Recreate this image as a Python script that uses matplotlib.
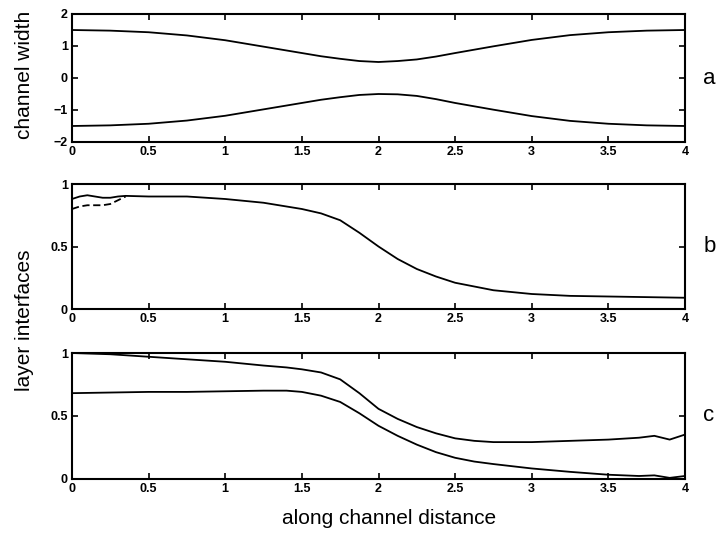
import matplotlib
matplotlib.use("Agg")
import matplotlib.pyplot as plt

# ---- data ----
x_width = [0.0, 0.25, 0.5, 0.75, 1.0, 1.25, 1.5, 1.625, 1.75, 1.875, 2.0, 2.125, 2.25, 2.375, 2.5, 2.75, 3.0, 3.25, 3.5, 3.75, 4.0]
upper_width = [1.50, 1.48, 1.43, 1.33, 1.18, 0.98, 0.78, 0.68, 0.60, 0.53, 0.50, 0.53, 0.58, 0.67, 0.78, 0.99, 1.19, 1.34, 1.43, 1.48, 1.50]
lower_width = [-1.50, -1.48, -1.43, -1.33, -1.18, -0.98, -0.78, -0.68, -0.60, -0.53, -0.50, -0.51, -0.56, -0.66, -0.78, -0.99, -1.19, -1.34, -1.43, -1.48, -1.50]

x_b = [0.0, 0.05, 0.1, 0.15, 0.2, 0.25, 0.3, 0.35, 0.5, 0.75, 1.0, 1.25, 1.5, 1.625, 1.75, 1.875, 2.0, 2.125, 2.25, 2.375, 2.5, 2.75, 3.0, 3.25, 3.5, 3.75, 4.0]
interface_b = [0.88, 0.90, 0.91, 0.90, 0.89, 0.89, 0.90, 0.905, 0.90, 0.90, 0.88, 0.85, 0.80, 0.765, 0.71, 0.61, 0.50, 0.40, 0.32, 0.26, 0.21, 0.15, 0.12, 0.105, 0.10, 0.095, 0.09]
x_b_dash = [0.0, 0.05, 0.1, 0.15, 0.2, 0.25, 0.3, 0.35]
interface_b_dash = [0.80, 0.82, 0.83, 0.83, 0.83, 0.84, 0.87, 0.90]

x_c = [0.0, 0.25, 0.5, 0.75, 1.0, 1.25, 1.4, 1.5, 1.625, 1.75, 1.875, 2.0, 2.125, 2.25, 2.375, 2.5, 2.625, 2.75, 3.0, 3.25, 3.5, 3.7, 3.8, 3.9, 4.0]
upper_c = [1.00, 0.99, 0.97, 0.95, 0.93, 0.90, 0.885, 0.87, 0.845, 0.79, 0.68, 0.555, 0.475, 0.41, 0.36, 0.32, 0.30, 0.29, 0.29, 0.30, 0.31, 0.325, 0.34, 0.31, 0.35]
lower_c = [0.68, 0.685, 0.69, 0.69, 0.695, 0.70, 0.70, 0.69, 0.66, 0.61, 0.52, 0.42, 0.34, 0.27, 0.21, 0.165, 0.135, 0.115, 0.08, 0.053, 0.03, 0.02, 0.025, 0.005, 0.02]

xticks = [0, 0.5, 1, 1.5, 2, 2.5, 3, 3.5, 4]
xticklabels = ["0", "0.5", "1", "1.5", "2", "2.5", "3", "3.5", "4"]
a_yticks = [-2, -1, 0, 1, 2]
a_yticklabels = ["\u22122", "\u22121", "0", "1", "2"]
bc_yticks = [0, 0.5, 1]
bc_yticklabels = ["0", "0.5", "1"]
panel_letters = ["a", "b", "c"]

W, H = 724, 542
fig = plt.figure(figsize=(W / 100, H / 100), dpi=100)
plt.rcParams['font.family'] = ['Liberation Sans', 'DejaVu Sans']

left = 72 / W
width = (685 - 72) / W
def rect(top, bottom):
    return [left, 1 - bottom / H, width, (bottom - top) / H]

ax_a = fig.add_axes(rect(14, 142))
ax_b = fig.add_axes(rect(184, 309))
ax_c = fig.add_axes(rect(353, 478.5))

lw = 1.3
ax_a.plot(x_width, upper_width, color="black", lw=lw)
ax_a.plot(x_width, lower_width, color="black", lw=lw)
ax_a.set_ylim(-2, 2)
ax_a.set_yticks(a_yticks)
ax_a.set_yticklabels(a_yticklabels)

ax_b.plot(x_b, interface_b, color="black", lw=lw)
ax_b.plot(x_b_dash, interface_b_dash, color="black", lw=lw, ls=(0, (4, 2)))
ax_b.set_ylim(0, 1)

ax_c.plot(x_c, upper_c, color="black", lw=lw)
ax_c.plot(x_c, lower_c, color="black", lw=lw)
ax_c.set_ylim(0, 1)

for ax in (ax_b, ax_c):
    ax.set_yticks(bc_yticks)
    ax.set_yticklabels(bc_yticklabels)

for ax, letter in zip((ax_a, ax_b, ax_c), panel_letters):
    ax.set_xlim(0, 4)
    ax.set_xticks(xticks)
    ax.set_xticklabels(xticklabels)
    ax.tick_params(direction="in", length=4, width=1.2, top=True, right=True,
                   labelsize=9, pad=3)
    for lab in ax.get_xticklabels() + ax.get_yticklabels():
        lab.set_fontweight("bold")
    for sp in ax.spines.values():
        sp.set_linewidth(1.5)
    ax.text(1.03, 0.5, letter, transform=ax.transAxes, fontsize=16,
            va="center", ha="left")

fig.text(25 / W, 1 - 75 / H, "channel width", rotation=90, fontsize=15,
         ha="center", va="center")
fig.text(25 / W, 1 - 320 / H, "layer interfaces", rotation=90, fontsize=15,
         ha="center", va="center")
fig.text(389 / W, 1 - 519 / H, "along channel distance", fontsize=15,
         ha="center", va="center")

fig.savefig("out.png", dpi=100)
